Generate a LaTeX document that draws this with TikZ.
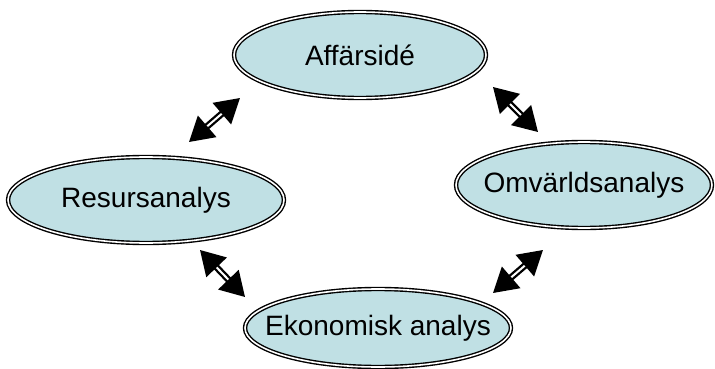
\documentclass[tikz,border=0pt]{standalone}
\usepackage{fontspec}
\setmainfont{Liberation Sans}
\usetikzlibrary{arrows.meta, shapes.geometric, calc}
\definecolor{paleblue}{RGB}{192,224,228}
\tikzset{
    my-oval/.style={
        ellipse, draw=black, fill=paleblue, line width=1.4pt,
        double=white, double distance=1.6pt, inner xsep=-60pt, inner ysep=0pt,
        font=\fontsize{28}{31}\selectfont
    },
    my-link/.style={
        line width=2.3pt, double=white, double distance=2pt,
        {Triangle[length=24pt,width=28pt]}-{Triangle[length=24pt,width=28pt]}
    },
}

\begin{document}
\begin{tikzpicture}[x=1pt, y=-1pt]
        \useasboundingbox (0,0) rectangle (715,369);

        % OVALS
        \node[my-oval, minimum width=252, minimum height=86] (AFF) at (360,55)  {Affärsidé};
        \node[my-oval, minimum width=276, minimum height=86] (RES) at (146,200) {Resursanalys};
        \node[my-oval, minimum width=256, minimum height=86] (OMV) at (584,185) {Omvärldsanalys};
        \node[my-oval, minimum width=266, minimum height=78] (EKO) at (378,328) {Ekonomisk analys};

        % LINK END POINTS
        \coordinate (AFFRES1) at (240,98);
        \coordinate (AFFRES2) at (189,142);
        \coordinate (AFFOMV1) at (493,87);
        \coordinate (AFFOMV2) at (538,132);
        \coordinate (RESEKO1) at (200,250);
        \coordinate (RESEKO2) at (245,297);
        \coordinate (OMVEKO1) at (543,250);
        \coordinate (OMVEKO2) at (493,293);

        % LINKS
        \draw[my-link] (AFFRES1) -- (AFFRES2);
        \draw[my-link] (AFFOMV1) -- (AFFOMV2);
        \draw[my-link] (RESEKO1) -- (RESEKO2);
        \draw[my-link] (OMVEKO1) -- (OMVEKO2);

    \end{tikzpicture}
\end{document}
